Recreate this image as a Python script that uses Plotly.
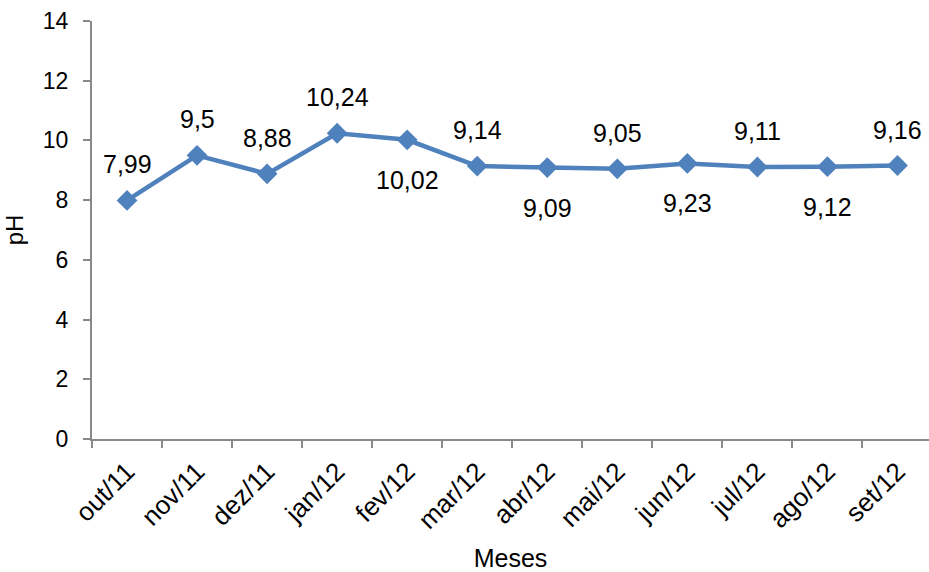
import plotly.graph_objects as go

# Monthly pH readings
meses = ["out/11", "nov/11", "dez/11", "jan/12", "fev/12", "mar/12",
         "abr/12", "mai/12", "jun/12", "jul/12", "ago/12", "set/12"]
ph = [7.99, 9.5, 8.88, 10.24, 10.02, 9.14, 9.09, 9.05, 9.23, 9.11, 9.12, 9.16]
# label placement: 1 above the point, -1 below
lado = [1, 1, 1, 1, -1, 1, -1, 1, -1, 1, -1, 1]

cor = "#4F81BD"
eixo = "#898989"
fonte = "Liberation Sans, Arial, sans-serif"

fig = go.Figure()
fig.add_trace(go.Scatter(
    x=meses, y=ph, mode="lines+markers",
    line=dict(color=cor, width=4.5),
    marker=dict(symbol="diamond", size=16, color=cor),
    hoverinfo="skip", showlegend=False,
))

for m, v, s in zip(meses, ph, lado):
    fig.add_annotation(
        x=m, y=v, text=f"{v:g}".replace(".", ","), showarrow=False,
        yshift=36 if s > 0 else -40,
        font=dict(family=fonte, size=25, color="#000000"),
    )

fig.update_layout(
    width=929, height=572,
    margin=dict(l=92, r=0, t=21, b=133),
    paper_bgcolor="white", plot_bgcolor="white",
    font=dict(family=fonte, color="#000000"),
)
fig.update_xaxes(
    type="category", range=[-0.5, 11.45],
    tickangle=-45, tickson="boundaries", automargin=False,
    ticks="outside", ticklen=7, tickcolor=eixo, tickwidth=2,
    showline=True, linecolor=eixo, linewidth=2,
    showgrid=False, zeroline=False,
    ticklabelstandoff=5,
    tickfont=dict(family=fonte, size=26),
    title=dict(text="Meses", font=dict(family=fonte, size=25), standoff=24),
)
fig.update_yaxes(
    range=[0, 14], dtick=2, tick0=0, automargin=False,
    ticks="outside", ticklen=7, tickcolor=eixo, tickwidth=2,
    showline=True, linecolor=eixo, linewidth=2,
    showgrid=False, zeroline=False,
    ticklabelstandoff=10,
    tickfont=dict(family=fonte, size=23),
    title=dict(text="pH", font=dict(family=fonte, size=24), standoff=12),
)

fig.write_html("out.html")
